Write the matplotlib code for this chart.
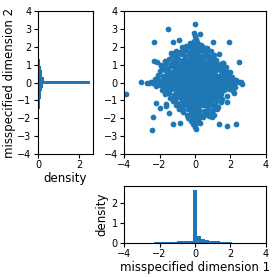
import numpy as np
import matplotlib
matplotlib.use("Agg")
import matplotlib.pyplot as plt

# ---------------- data ----------------
# points along the vertical axis (x ~ 0)
vline_x = [0.0, -0.07, 0.0, 0.04, -0.03, 0.05, -0.05, 0.02, 0.06, -0.04,
           0.03, -0.02, 0.05, -0.06, 0.01, 0.04, -0.03, 0.02, -0.05, 0.03,
           0.0, -0.02, 0.04, -0.04, 0.02, 0.05, -0.03, 0.01, -0.05, 0.03,
           0.02, -0.04, 0.05, -0.02, 0.03, -0.05, 0.01, 0.04, -0.03, 0.02,
           -0.01, 0.0, 0.03, 0.0, 0.05, -0.04,
           0.12, -0.13, 0.1, -0.11, 0.14, -0.12, 0.11, -0.1, 0.13, -0.14]
vline_y = [3.25, 2.75, 2.62, 2.42, 2.3, 2.18, 2.05, 1.92, 1.8, 1.7,
           1.58, 1.46, 1.35, 1.22, 1.1, 0.98, 0.86, 0.74, 0.62, 0.5,
           0.38, 0.26, 0.14, -0.1, -0.22, -0.35, -0.48, -0.6, -0.73, -0.86,
           -0.98, -1.1, -1.23, -1.36, -1.5, -1.63, -1.77, -1.9, -2.02, -2.15,
           -2.36, -2.5, -2.6, 0.0, 0.03, -0.05,
           1.42, 1.64, 1.86, 2.08, 2.28, -1.42, -1.64, -1.86, -2.08, -2.3]

# points along the horizontal axis (y ~ 0)
hline_x = [-3.02, -2.72, -2.6, -2.5, -2.38, -2.25, -2.12, -2.0, -1.88, -1.76,
           -1.64, -1.52, -1.4, -1.28, -1.16, -1.04, -0.92, -0.8, -0.68, -0.56,
           -0.44, -0.32, -0.2, 0.18, 0.3, 0.42, 0.54, 0.66, 0.78, 0.9,
           1.02, 1.14, 1.26, 1.38, 1.5, 1.62, 1.74, 1.86, 1.98, 2.1,
           2.22, 2.34, 2.46, 2.57, 2.64]
hline_y = [0.02, 0.0, -0.03, 0.04, -0.02, 0.03, -0.05, 0.01, 0.05, -0.03,
           0.02, -0.04, 0.03, 0.0, -0.05, 0.04, -0.02, 0.05, -0.03, 0.01,
           0.04, -0.04, 0.02, -0.03, 0.05, -0.01, 0.03, -0.05, 0.02, 0.0,
           0.04, -0.03, 0.02, -0.05, 0.03, 0.0, -0.04, 0.05, -0.02, 0.03,
           -0.05, 0.02, 0.04, 0.02, -0.07]

# dense core of the cloud
core_x = [-1.63, -1.37, -1.12, -0.86, -0.62, -0.37, -0.12, 0.12, 0.38, 0.64,
          0.9, 1.15, 1.41, 1.66,
          -1.5, -1.25, -0.99, -0.74, -0.5, -0.25, 0.08, 0.3, 0.55, 0.8,
          1.06, 1.32, 1.58,
          -1.45, -1.2, -0.94, -0.68, -0.42, 0.02, 0.4, 0.66, 0.92, 1.17, 1.43,
          -1.32, -1.07, -0.82, -0.57, -0.3, -0.02, 0.28, 0.54, 0.8, 1.05,
          1.3, 1.55,
          -1.2, -0.94, -0.68, -0.43, -0.05, 0.31, 0.57, 0.82, 1.08,
          -1.08, -0.82, -0.57, -0.31, 0.05, 0.32, 0.58, 0.84, 1.1, 1.35,
          -0.9, -0.65, -0.4, -0.14, 0.12, 0.38, 0.63, 0.88,
          -0.85, -0.6, -0.34, -0.08, 0.12, 0.37, 0.62, 0.9, 1.15,
          -0.62, -0.36, -0.1, 0.1, 0.36, 0.6,
          -0.6, -0.35, -0.12, 0.1, 0.33, 0.58, 0.84,
          -0.4, -0.15, 0.12, 0.38,
          -0.38, -0.12, 0.12, 0.37, 0.6]
core_y = [0.1, 0.08, 0.12, 0.09, 0.11, 0.1, 0.13, 0.09, 0.1, 0.12,
          0.08, 0.11, 0.1, 0.09,
          -0.1, -0.12, -0.09, -0.11, -0.1, -0.08, -0.12, -0.1, -0.09, -0.11,
          -0.1, -0.12, -0.09,
          0.31, 0.3, 0.33, 0.29, 0.32, 0.31, 0.3, 0.33, 0.29, 0.32, 0.31,
          -0.31, -0.3, -0.33, -0.29, -0.32, -0.31, -0.3, -0.33, -0.29, -0.32,
          -0.31, -0.3,
          0.53, 0.55, 0.52, 0.54, 0.53, 0.51, 0.55, 0.53, 0.52,
          -0.53, -0.55, -0.52, -0.54, -0.53, -0.51, -0.55, -0.53, -0.52, -0.54,
          0.75, 0.77, 0.74, 0.76, 0.75, 0.73, 0.77, 0.75,
          -0.75, -0.77, -0.74, -0.76, -0.75, -0.73, -0.77, -0.75, -0.74,
          0.97, 0.96, 0.98, 0.97, 0.95, 0.98,
          -0.97, -0.96, -0.98, -0.97, -0.95, -0.98, -0.97,
          1.19, 1.2, 1.18, 1.2,
          -1.19, -1.2, -1.18, -1.2, -1.19]

# upper half of the cloud
upper_x = [-2.28, -2.02, -1.77, -1.5, -1.26, -0.99, -0.75, -0.49, -0.24, 0.27,
           0.52, 0.78, 1.03, 1.29, 1.55, 1.8, 2.06, 2.3,
           -2.1, -1.83, -1.58, -1.33, -1.06, -0.8, -0.56, -0.3, -0.14, 0.15,
           0.36, 0.62, 0.88, 1.12, 1.38, 1.64, 1.9,
           -1.95, -1.7, -1.42, -1.18, -0.92, -0.66, -0.41, -0.18, 0.2, 0.44,
           0.7, 0.95, 1.2, 1.46, 1.71, 1.95,
           -1.82, -1.55, -1.3, -1.05, -0.78, -0.53, -0.27, 0.24, 0.5, 0.76,
           1.0, 1.27, 1.52, 1.74,
           -2.12, -1.9, -1.62, -1.36, -1.1, -0.85, -0.6, -0.34, -0.12, 0.15,
           0.38, 0.63, 0.9, 1.14, 1.4, 1.6,
           -1.72, -1.45, -1.2, -0.95, -0.7, -0.45, -0.2, 0.2, 0.46, 0.71,
           0.96, 1.21,
           -1.3, -1.05, -0.8, -0.55, -0.3, 0.28, 0.54, 0.8, 1.05, 1.36,
           -1.2, -1.08, -0.85, -0.6, -0.36, -0.15, 0.14, 0.38, 0.62, 0.88,
           -0.72, -0.5, -0.25, 0.22, 0.45, 0.7,
           -0.52, -0.3, 0.15, 0.36,
           -2.31, -1.25, -0.9, -1.5, 0.27, 1.03, 1.93, 2.5, 1.59, 1.84,
           2.06, -2.33, -1.33, -1.93]
upper_y = [0.22, 0.15, 0.26, 0.18, 0.24, 0.14, 0.21, 0.27, 0.17, 0.23,
           0.16, 0.25, 0.19, 0.13, 0.26, 0.2, 0.28, 0.17,
           0.45, 0.38, 0.47, 0.4, 0.36, 0.46, 0.41, 0.37, 0.48, 0.39,
           0.44, 0.36, 0.47, 0.42, 0.38, 0.45, 0.4,
           0.62, 0.69, 0.6, 0.67, 0.63, 0.7, 0.59, 0.66, 0.61, 0.68,
           0.64, 0.58, 0.69, 0.62, 0.66, 0.6,
           0.88, 0.83, 0.9, 0.84, 0.89, 0.82, 0.91, 0.85, 0.88, 0.83,
           0.9, 0.86, 0.81, 0.89,
           1.17, 0.98, 1.12, 1.05, 1.1, 1.03, 1.12, 1.06, 1.1, 1.04,
           1.11, 1.07, 1.02, 1.1, 1.05, 1.08,
           1.23, 1.32, 1.27, 1.34, 1.28, 1.25, 1.33, 1.29, 1.35, 1.26,
           1.31, 1.28,
           1.55, 1.5, 1.57, 1.49, 1.54, 1.51, 1.56, 1.48, 1.53, 1.58,
           1.65, 1.79, 1.72, 1.77, 1.7, 1.76, 1.73, 1.78, 1.71, 1.75,
           1.98, 1.93, 2.0, 1.95, 1.99, 1.94,
           2.04, 2.2, 2.17, 2.12,
           2.28, 2.25, 2.36, 3.0, 2.73, 2.26, 2.27, 1.17, 1.08, 0.61,
           0.3, 1.21, 1.64, 0.95]

# lower half of the cloud
lower_x = [-2.2, -1.95, -1.7, -1.45, -1.2, -0.95, -0.7, -0.45, -0.2, 0.22,
           0.48, 0.74, 0.99, 1.25, 1.5, 1.76, 2.02, 2.28,
           -1.88, -1.6, -1.35, -1.1, -0.84, -0.58, -0.33, -0.12, 0.16, 0.38,
           0.63, 0.9, 1.15, 1.4, 1.66, 1.92, 2.16,
           -1.71, -1.46, -1.2, -0.95, -0.7, -0.44, -0.2, 0.19, 0.44, 0.7,
           0.96, 1.22, 1.48, 1.78, 2.2,
           -1.42, -1.15, -0.9, -0.64, -0.4, -0.16, 0.24, 0.5, 0.76, 1.02,
           1.28, 1.55,
           -1.65, -1.25, -1.0, -0.74, -0.5, -0.26, 0.18, 0.42, 0.68, 0.93,
           1.2, 1.45, 1.82,
           -1.61, -1.1, -0.85, -0.6, -0.35, -0.14, 0.2, 0.45, 0.7, 0.95,
           1.2, 1.31,
           -0.92, -0.66, -0.42, -0.2, 0.24, 0.5, 0.75, 1.0, 1.25,
           -1.46, -0.66, -0.47, -0.25, 0.2, 0.48, 0.72, 0.98,
           -0.4, -0.18, 0.22, 0.44, 0.78, 0.97, 1.08,
           -0.2, 0.27, 0.12,
           -3.87, -2.18, -1.97, -2.35, -2.42, -1.22, -0.85, 1.35, 1.78, 2.29,
           2.16]
lower_y = [-0.22, -0.16, -0.25, -0.18, -0.23, -0.15, -0.27, -0.19, -0.24, -0.17,
           -0.26, -0.2, -0.14, -0.25, -0.18, -0.23, -0.16, -0.26,
           -0.4, -0.46, -0.38, -0.44, -0.41, -0.47, -0.36, -0.43, -0.39, -0.45,
           -0.37, -0.42, -0.48, -0.4, -0.44, -0.38, -0.46,
           -0.63, -0.6, -0.68, -0.62, -0.67, -0.59, -0.66, -0.61, -0.69, -0.63,
           -0.58, -0.67, -0.62, -0.78, -0.56,
           -0.84, -0.9, -0.83, -0.88, -0.82, -0.89, -0.85, -0.91, -0.84, -0.87,
           -0.82, -0.9,
           -1.18, -1.05, -1.12, -1.04, -1.1, -1.06, -1.11, -1.03, -1.09, -1.13,
           -1.05, -1.1, -1.09,
           -1.3, -1.27, -1.33, -1.26, -1.31, -1.25, -1.32, -1.28, -1.34, -1.27,
           -1.3, -1.36,
           -1.5, -1.56, -1.49, -1.55, -1.52, -1.57, -1.5, -1.54, -1.49,
           -1.69, -1.65, -1.83, -1.72, -1.76, -1.8, -1.71, -1.78,
           -1.99, -1.94, -1.98, -1.93, -1.88, -1.93, -1.84,
           -2.15, -2.27, -2.2,
           -0.65, -1.15, -1.42, -1.93, -2.66, -2.3, -2.26, -2.34, -2.45, -2.32,
           -0.26]

# histogram of dimension 1 (bottom panel)
dim1_range = (-3.85, 2.75)
dim1_density = [0.005, 0.0, 0.0, 0.005, 0.01, 0.015, 0.02, 0.03, 0.03, 0.04,
                0.05, 0.06, 0.07, 0.08, 0.09, 0.1, 0.12, 2.65, 0.34, 0.22,
                0.15, 0.12, 0.1, 0.08, 0.07, 0.05, 0.03, 0.02, 0.01, 0.01]

# histogram of dimension 2 (left panel)
dim2_range = (-2.7, 3.3)
dim2_density = [0.02, 0.03, 0.04, 0.05, 0.06, 0.07, 0.08, 0.1, 0.12, 0.14,
                0.17, 0.21, 0.25, 2.55, 0.3, 0.22, 0.18, 0.14, 0.11, 0.09,
                0.07, 0.06, 0.05, 0.04, 0.03, 0.02, 0.01, 0.01, 0.0, 0.01]

# ---------------- plot ----------------
C = "#1f77b4"
TICK = 7
LAB = 8.5

fig = plt.figure(figsize=(2.77, 2.77), dpi=100)
ax_left = fig.add_axes([0.137, 0.444, 0.199, 0.516])
ax_main = fig.add_axes([0.448, 0.444, 0.512, 0.516])
ax_bot = fig.add_axes([0.448, 0.123, 0.512, 0.206])

xs = np.concatenate([vline_x, hline_x, core_x, upper_x, lower_x])
ys = np.concatenate([vline_y, hline_y, core_y, upper_y, lower_y])
ax_main.scatter(xs, ys, s=17, color=C, linewidths=0)
ax_main.set_xlim(-4, 4)
ax_main.set_ylim(-4, 4)
ax_main.set_xticks([-4, -2, 0, 2, 4])
ax_main.set_yticks(range(-4, 5))

# bottom histogram
e1 = np.linspace(dim1_range[0], dim1_range[1], len(dim1_density) + 1)
ax_bot.bar(e1[:-1], dim1_density, width=np.diff(e1), align="edge",
           color=C, linewidth=0)
ax_bot.set_xlim(-4, 4)
ax_bot.set_ylim(0, 2.85)
ax_bot.set_xticks([-4, -2, 0, 2, 4])
ax_bot.set_yticks([0, 1, 2])
ax_bot.set_xlabel("misspecified dimension 1", fontsize=LAB, labelpad=1)
ax_bot.set_ylabel("density", fontsize=LAB, labelpad=2)

# left histogram
e2 = np.linspace(dim2_range[0], dim2_range[1], len(dim2_density) + 1)
ax_left.barh(e2[:-1], dim2_density, height=np.diff(e2), align="edge",
             color=C, linewidth=0)
ax_left.set_ylim(-4, 4)
ax_left.set_xlim(0, 2.68)
ax_left.set_xticks([0, 2])
ax_left.set_yticks(range(-4, 5))
ax_left.set_xlabel("density", fontsize=LAB, labelpad=1)
ax_left.set_ylabel("misspecified dimension 2", fontsize=LAB, labelpad=1)

for ax in (ax_left, ax_main, ax_bot):
    ax.tick_params(labelsize=TICK, length=3, width=0.8, pad=1.5)
    for sp in ax.spines.values():
        sp.set_linewidth(0.8)

fig.savefig("out.png", dpi=100)
